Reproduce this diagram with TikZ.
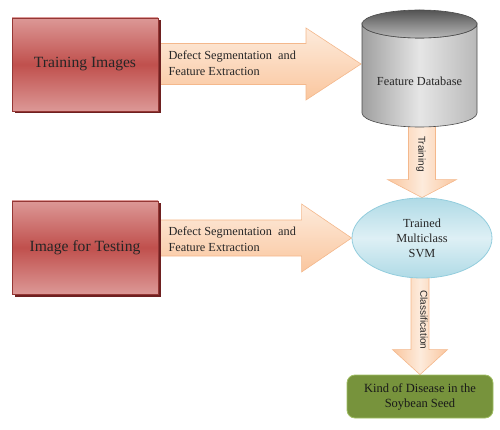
\documentclass[tikz,border=0pt]{standalone}
\usepackage{fontspec}
\setmainfont{Liberation Serif}
\newfontfamily\lblsans{Liberation Sans}
\usetikzlibrary{calc,shadows,shapes.geometric,backgrounds}
\definecolor{boxred}{RGB}{192,80,77}
\definecolor{boxpink}{RGB}{220,152,150}
\definecolor{boxedge}{RGB}{149,55,53}
\definecolor{boxshade}{RGB}{110,32,32}
\definecolor{peachlight}{RGB}{253,235,220}
\definecolor{peach}{RGB}{250,198,158}
\definecolor{peachedge}{RGB}{244,184,140}
\definecolor{svmblue}{RGB}{175,218,230}
\definecolor{svmlight}{RGB}{222,240,245}
\definecolor{svmedge}{RGB}{147,205,221}
\definecolor{olive}{RGB}{119,147,60}
\definecolor{oliveedge}{RGB}{160,190,100}
\begin{document}
\begin{tikzpicture}[x=1pt, y=-1pt,
    inputbox/.style={draw=boxedge, top color=boxpink, bottom color=boxpink, middle color=boxred,
        minimum width=146pt, minimum height=93pt, text=black!85,
        drop shadow={fill=boxshade, shadow xshift=2.5pt, shadow yshift=-2.5pt, opacity=1},
        font=\fontsize{15.6}{18}\selectfont},
    bigarrow/.style={draw=peachedge, line width=0.6pt, top color=peachlight, bottom color=peach},
    downarrow/.style={draw=peachedge, line width=0.6pt, left color=peach, right color=peach, middle color=peachlight},
    arrowtext/.style={anchor=west, align=left, text=black!85, font=\fontsize{12.3}{16}\selectfont},
    sidelabel/.style={rotate=-90, text=black!85, font=\lblsans\fontsize{10}{12}\selectfont},
    cylbody/.style={draw=gray!60!black, line width=0.6pt, left color=gray!75, right color=gray!55, middle color=gray!20},
    cyltop/.style={draw=gray!60!black, line width=0.6pt, top color=gray!65!black, bottom color=gray!55},
    svmnode/.style={ellipse, draw=svmedge, line width=0.8pt, top color=svmblue, bottom color=svmblue, middle color=svmlight,
        minimum width=140pt, minimum height=80pt, align=center, text=black!85, font=\fontsize{12.3}{15}\selectfont},
    resultbox/.style={draw=oliveedge, line width=0.8pt, fill=olive, rounded corners=8pt, minimum width=146pt,
        minimum height=43pt, align=center, text=black!90, font=\fontsize{12.5}{15}\selectfont}]
    \useasboundingbox (0,0) rectangle (500,430);

    % nodes
    \node[inputbox] (train) at (85,64.5) {Training Images};
    \node[inputbox] (test) at (85,247.5) {Image for Testing};
    \node[svmnode] (svm) at (422,238) {Trained\\Multiclass\\SVM};
    \node[resultbox] (result) at (420,396.5) {Kind of Disease in the\\Soybean Seed};
    \coordinate (dbw) at (361,64);

    % block arrows
    \begin{scope}[on background layer]
    \draw[bigarrow] (dbw) -- ++(-55,-36) -- ++(0,15.5) -- ++(-147,0) -- ++(0,41) -- ++(147,0) -- ++(0,15.5) -- cycle;
    \draw[bigarrow] (svm.west) -- ++(-50,-34) -- ++(0,16) -- ++(-145,0) -- ++(0,36) -- ++(145,0) -- ++(0,16) -- cycle;
    \draw[downarrow] (svm.north) -- ++(-34.5,-18) -- ++(21,0) -- ++(0,-58) -- ++(27,0) -- ++(0,58) -- ++(21,0) -- cycle;
    \draw[downarrow] (result.north) -- ++(-27.5,-25) -- ++(18.5,0) -- ++(0,-74) -- ++(18,0) -- ++(0,74) -- ++(18.5,0) -- cycle;
    \end{scope}

    % database
    \path[cylbody] (362,24) -- (362,113) arc[start angle=180, end angle=0, x radius=57.5, y radius=14]
        -- (477,24) arc[start angle=0, end angle=180, x radius=57.5, y radius=14] -- cycle;
    \draw[cyltop] (419.5,24) ellipse[x radius=57.5, y radius=14];
    \node[text=black!85, font=\fontsize{12.3}{15}\selectfont] (db) at (419.5,81) {Feature Database};

    % labels
    \node[arrowtext] (seg1) at (165,63) {Defect Segmentation\ \ and\\Feature Extraction};
    \node[arrowtext] (seg2) at (165,239) {Defect Segmentation\ \ and\\Feature Extraction};
    \node[sidelabel] (trainlbl) at (421,154) {Training};
    \node[sidelabel] (classlbl) at (424,320) {Classification};
\end{tikzpicture}
\end{document}
